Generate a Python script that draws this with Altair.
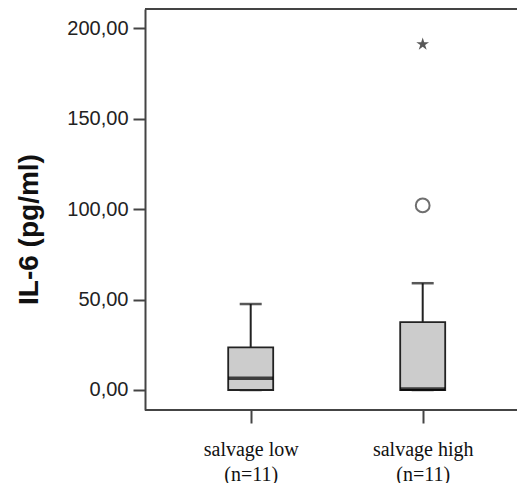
import altair as alt
import pandas as pd

# ---- data ----
groups = ["salvage low", "salvage high"]
n_counts = [11, 11]
whisker_lo = [0.0, 0.0]
q1 = [0.0, 0.0]
median = [6.5, 0.5]
q3 = [23.5, 37.5]
whisker_hi = [47.5, 59.0]
outlier_group = ["salvage high"]
outlier_vals = [102.0]
extreme_group = ["salvage high"]
extreme_vals = [191.0]
y_ticks = [0, 50, 100, 150, 200]

keys = [f"{g}|(n={n})" for g, n in zip(groups, n_counts)]
key_of = dict(zip(groups, keys))

box_df = pd.DataFrame({
    "key": keys, "lo": whisker_lo, "q1": q1, "med": median, "q3": q3, "hi": whisker_hi,
})
out_df = pd.DataFrame({"key": [key_of[g] for g in outlier_group], "v": outlier_vals})
ext_df = pd.DataFrame({"key": [key_of[g] for g in extreme_group], "v": extreme_vals})
one = pd.DataFrame({"a": [0]})

W, H = 372, 401
YDOM = [-11.05, 210.5]
LINE = "#444444"

xscale = alt.Scale(type="point", domain=keys, range=[105.7, 277.7], padding=0)
yscale = alt.Scale(domain=YDOM, nice=False, zero=False)

xaxis = alt.Axis(
    title=None, domain=False, ticks=True, tickSize=13, tickWidth=2, tickColor=LINE,
    labelExpr="split(datum.label, '|')", labelAngle=0, labelFont="Liberation Serif",
    labelFontSize=20, labelColor="#111111", labelPadding=16, labelLineHeight=25,
    grid=False,
)
yaxis = alt.Axis(
    title="IL-6 (pg/ml)", values=y_ticks, format=".2f",
    labelExpr="replace(datum.label, '.', ',')", labelFont="Liberation Sans",
    labelFontSize=20, labelColor="#222222", labelPadding=5,
    tickSize=12, tickWidth=2, tickColor=LINE, domainColor=LINE, domainWidth=2,
    grid=False, titleFont="Liberation Sans", titleFontSize=28, titleFontWeight="bold",
    titleColor="#111111", titleAngle=-90, titleAlign="center",
    titleBaseline="alphabetic", titleX=-108, titleY=220,
)

x_enc = alt.X("key:N", scale=xscale, axis=xaxis, sort=keys)

whisk = alt.Chart(box_df).mark_rule(color="#222222", strokeWidth=2).encode(
    x=x_enc, y=alt.Y("q3:Q", scale=yscale, axis=yaxis), y2="hi:Q")
cap_hi = alt.Chart(box_df).mark_tick(color="#111111", size=22, thickness=2.5).encode(
    x="key:N", y="hi:Q")
cap_lo = alt.Chart(box_df).mark_tick(color="#111111", size=22, thickness=2.5).encode(
    x="key:N", y="lo:Q")
box = alt.Chart(box_df).mark_bar(size=45, fill="#cccccc", stroke="#222222",
                                 strokeWidth=1.8).encode(
    x="key:N", y="q1:Q", y2="q3:Q")
med = alt.Chart(box_df).mark_tick(color="#000000", size=45, thickness=3.5).encode(
    x="key:N", y="med:Q")
outl = alt.Chart(out_df).mark_point(shape="circle", size=190, filled=False,
                                    color="#333333", strokeWidth=2).encode(
    x="key:N", y="v:Q")
STAR = ("M0,-1 L0.223,-0.307 L0.951,-0.309 L0.361,0.117 L0.588,0.809 L0,0.38 "
        "L-0.588,0.809 L-0.361,0.117 L-0.951,-0.309 L-0.223,-0.307 Z")
ext = alt.Chart(ext_df).mark_point(shape=STAR, size=180, filled=True,
                                   color="#111111", strokeWidth=0.5).encode(
    x="key:N", y="v:Q")
top_line = alt.Chart(one).mark_rule(color=LINE, strokeWidth=2).encode(
    x=alt.value(0), x2=alt.value(W), y=alt.value(0))
bottom_line = alt.Chart(one).mark_rule(color=LINE, strokeWidth=2).encode(
    x=alt.value(0), x2=alt.value(W), y=alt.value(H))

chart = alt.layer(
    whisk, cap_hi, cap_lo, box, med, outl, ext, top_line, bottom_line
).properties(
    width=W, height=H,
    autosize=alt.AutoSizeParams(type="none"),
    padding={"left": 137, "top": 1, "right": 0, "bottom": 73},
).configure_view(stroke=None).configure(background="white")

chart.save("out.html", embed_options={"renderer": "svg", "actions": False})
